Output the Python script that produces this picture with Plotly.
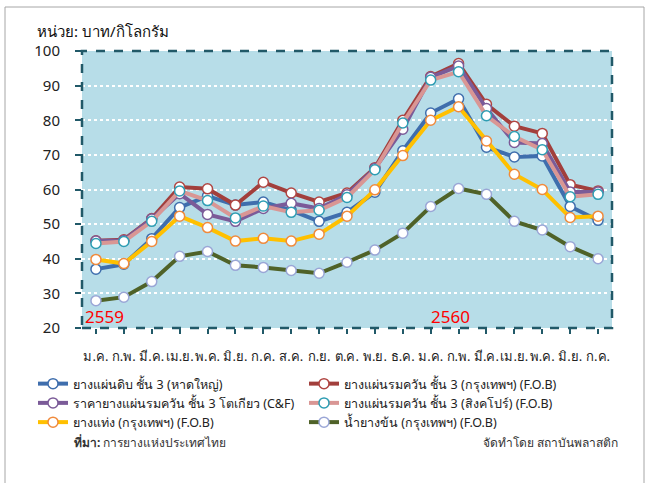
import plotly.graph_objects as go

months = ["ม.ค.", "ก.พ.", "มี.ค.", "เม.ย.", "พ.ค.", "มิ.ย.", "ก.ค.", "ส.ค.", "ก.ย.", "ต.ค.",
          "พ.ย.", "ธ.ค.", "ม.ค.", "ก.พ.", "มี.ค.", "เม.ย.", "พ.ค.", "มิ.ย.", "ก.ค."]
years = ["2559", "2560"]

rss_hatyai = [37.0, 38.4, 45.8, 54.8, 58.1, 55.5, 56.4, 54.0, 50.8, 53.4,
              59.2, 71.2, 82.1, 86.2, 72.2, 69.4, 69.7, 55.1, 51.1]
rss3_bkk = [45.2, 45.5, 51.6, 60.7, 60.2, 55.5, 62.1, 59.0, 56.4, 59.0,
            66.3, 80.0, 92.6, 96.4, 84.6, 78.3, 76.2, 61.4, 59.6]
rss3_tokyo = [45.1, 45.3, 51.5, 58.8, 52.8, 50.8, 54.5, 56.0, 54.5, 58.5,
              66.1, 77.4, 92.4, 95.7, 83.4, 73.6, 73.3, 59.3, 59.3]
rss3_sing = [44.4, 45.0, 50.8, 59.6, 56.8, 51.8, 55.2, 53.4, 54.0, 57.7,
             65.7, 79.2, 91.6, 94.0, 81.3, 75.3, 71.5, 57.9, 58.6]
str_bkk = [39.8, 38.6, 45.0, 52.3, 49.0, 45.1, 45.9, 45.1, 47.1, 52.3,
           59.9, 69.8, 80.0, 83.9, 74.0, 64.4, 60.0, 51.9, 52.3]
latex_bkk = [27.9, 28.9, 33.4, 40.7, 42.1, 38.1, 37.5, 36.6, 35.8, 39.0,
             42.5, 47.4, 55.1, 60.3, 58.6, 50.8, 48.3, 43.5, 40.0]

series = [
    ("ยางแผ่นดิบ ชั้น 3 (หาดใหญ่)", rss_hatyai, "#3f6ead", "#3f6ead"),
    ("ยางแผ่นรมควัน ชั้น 3 (กรุงเทพฯ) (F.O.B)", rss3_bkk, "#a23f3c", "#b04643"),
    ("ราคายางแผ่นรมควัน ชั้น 3 โตเกียว (C&F)", rss3_tokyo, "#7b5b98", "#7b5b98"),
    ("ยางแผ่นรมควัน ชั้น 3 (สิงคโปร์) (F.O.B)", rss3_sing, "#d99694", "#2e9db3"),
    ("ยางแท่ง (กรุงเทพฯ) (F.O.B)", str_bkk, "#ffc000", "#f08a3c"),
    ("น้ำยางข้น (กรุงเทพฯ) (F.O.B)", latex_bkk, "#4f6228", "#9aa6d6"),
]

x = list(range(len(months)))
fig = go.Figure()
for name, vals, lc, mc in series:
    fig.add_trace(go.Scatter(
        x=x, y=vals, name=name, mode="lines+markers",
        line=dict(color=lc, width=4),
        marker=dict(size=10, color="white", line=dict(color=mc, width=1.5)),
    ))

font_th = "Noto Sans, DejaVu Sans, sans-serif"
W, H = 648, 483
L, R, T, B = 82, 36, 51, 155
pw, ph = W - L - R, H - T - B

def px(xp):
    return (xp - L) / pw

def py(yp):
    return (H - B - yp) / ph

fig.update_layout(
    width=W, height=H,
    margin=dict(l=L, r=R, t=T, b=B, autoexpand=False),
    paper_bgcolor="white",
    plot_bgcolor="#b7dde8",
    font=dict(family=font_th, color="#222222"),
    showlegend=True,
    legend=dict(
        orientation="h", x=px(33), y=py(369), xanchor="left", yanchor="top",
        entrywidth=226, entrywidthmode="pixels",
        font=dict(size=12.5, color="#222222"), bgcolor="rgba(0,0,0,0)",
        tracegroupgap=0, itemwidth=30,
    ),
    xaxis=dict(
        range=[-0.5, 18.5], tickmode="array", tickvals=x, ticktext=months,
        tickfont=dict(size=13, color="#222222"), tickangle=0,
        showgrid=False, zeroline=False,
        ticks="outside", ticklen=5, tickcolor="#215968", tickwidth=1.5,
        tickson="boundaries", ticklabelstandoff=11,
        showline=False,
    ),
    yaxis=dict(
        range=[20, 100], dtick=10, tickfont=dict(size=15, color="#222222"),
        showgrid=True, gridcolor="white", griddash="dot", gridwidth=2,
        zeroline=False, ticks="outside", ticklen=6, tickcolor="#215968",
        tickwidth=1.5, ticklabelstandoff=12, showline=False,
    ),
    shapes=[
        dict(type="rect", xref="paper", yref="paper", x0=0, x1=1, y0=0, y1=1,
             line=dict(color="#215968", width=2.5, dash="dash"), fillcolor="rgba(0,0,0,0)"),
        dict(type="rect", xref="paper", yref="paper", x0=px(5), x1=px(644), y0=py(495), y1=py(7),
             line=dict(color="#a6a6a6", width=1), fillcolor="rgba(0,0,0,0)", layer="below"),
    ],
    annotations=[
        dict(text="หน่วย: บาท/กิโลกรัม", xref="paper", yref="paper", x=px(35), y=py(31),
             xanchor="left", yanchor="middle", showarrow=False,
             font=dict(size=15, color="#111111", family=font_th)),
        dict(text=years[0], xref="x", yref="y", x=-0.47, y=23.2, xanchor="left", yanchor="middle",
             showarrow=False, font=dict(size=17, color="red")),
        dict(text=years[1], xref="x", yref="y", x=12.7, y=23.2, xanchor="center", yanchor="middle",
             showarrow=False, font=dict(size=17, color="red")),
        dict(text="<b>ที่มา:</b> การยางแห่งประเทศไทย", xref="paper", yref="paper", x=px(72), y=py(442),
             xanchor="left", yanchor="middle", showarrow=False,
             font=dict(size=12, color="#333333")),
        dict(text="จัดทำโดย สถาบันพลาสติก", xref="paper", yref="paper", x=px(620), y=py(442),
             xanchor="right", yanchor="middle", showarrow=False,
             font=dict(size=12, color="#333333")),
    ],
)

fig.write_html("out.html", config={"displayModeBar": False},
               post_script="document.body.style.margin='0';document.body.style.overflow='hidden';")
